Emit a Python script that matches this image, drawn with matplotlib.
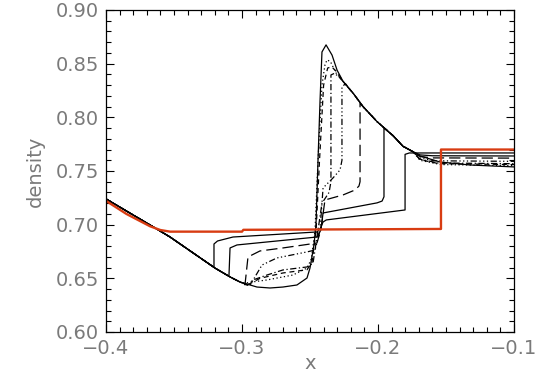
import matplotlib.pyplot as plt
from matplotlib.ticker import MultipleLocator

# exact / reference solution (red)
red_x = [-0.400, -0.3850, -0.3676, -0.3600, -0.3529, -0.3000, -0.2990, -0.1537, -0.1537, -0.100]
red_y = [0.7222, 0.7100, 0.6985, 0.6950, 0.6935, 0.6935, 0.6952, 0.6960, 0.7700, 0.7700]

# shared left rarefaction fan
rare_x = [-0.4000, -0.3676, -0.3529, -0.3199, -0.3088, -0.3015]
rare_y = [0.7240, 0.6997, 0.6885, 0.6596, 0.6513, 0.6466]

# shared upper shock envelope
env_x = [-0.2382, -0.2338, -0.2301, -0.2257, -0.2180, -0.2110, -0.2007, -0.1890, -0.1816, -0.1743]
env_y = [0.8675, 0.8580, 0.8440, 0.8335, 0.8220, 0.8100, 0.7960, 0.7830, 0.7730, 0.7680]

# each curve: its own points between the fan and the envelope, plus the right tail
curve_a_x = [-0.3206, -0.3206, -0.3180, -0.3066, -0.2449, -0.2426, -0.2404, -0.2380, -0.1801,
             -0.1801, -0.1770, -0.100]
curve_a_y = [0.6603, 0.6820, 0.6848, 0.6885, 0.6932, 0.6960, 0.7025, 0.7044, 0.7137,
             0.7655, 0.7668, 0.7668]

curve_b_x = [-0.3096, -0.3088, -0.3037, -0.2449, -0.2420, -0.2404, -0.2007, -0.1970, -0.1956,
             -0.1956, -0.1890, -0.1816, -0.1743, -0.1691, -0.1600, -0.100]
curve_b_y = [0.6520, 0.6783, 0.6811, 0.6885, 0.6950, 0.7109, 0.7203, 0.7220, 0.7260,
             0.7900, 0.7830, 0.7730, 0.7680, 0.7650, 0.7642, 0.7640]

curve_c_x = [-0.2978, -0.2956, -0.2868, -0.2699, -0.2449, -0.2420, -0.2390, -0.2257, -0.2169,
             -0.2140, -0.2132, -0.2132]
curve_c_y = [0.6440, 0.6699, 0.6755, 0.6783, 0.6829, 0.6950, 0.7230, 0.7277, 0.7323,
             0.7360, 0.7400, 0.8130]
tail_c_x = [-0.1691, -0.1600, -0.100]
tail_c_y = [0.7635, 0.7622, 0.7620]

curve_d_x = [-0.2941, -0.2853, -0.2743, -0.2522, -0.2463, -0.2426, -0.2404, -0.2331, -0.2279,
             -0.2265, -0.2265, -0.2240]
curve_d_y = [0.6435, 0.6624, 0.6690, 0.6746, 0.6764, 0.6950, 0.7342, 0.7435, 0.7510,
             0.7600, 0.8280, 0.8315]
tail_d_x = [-0.1691, -0.1580, -0.100]
tail_d_y = [0.7620, 0.7595, 0.7590]

curve_e_x = [-0.2960, -0.2919, -0.2816, -0.2699, -0.2522, -0.2478, -0.2441, -0.2412, -0.2360,
             -0.2346, -0.2346, -0.2320, -0.2290]
curve_e_y = [0.6435, 0.6485, 0.6531, 0.6578, 0.6606, 0.6640, 0.6950, 0.7200, 0.7300,
             0.7400, 0.8395, 0.8410, 0.8380]
tail_e_x = [-0.1691, -0.1560, -0.100]
tail_e_y = [0.7610, 0.7575, 0.7568]

curve_x_x = [-0.2956, -0.2868, -0.2699, -0.2522, -0.2485, -0.2455, -0.2430, -0.2400, -0.2370,
             -0.2340, -0.2300, -0.2270]
curve_x_y = [0.6440, 0.6500, 0.6550, 0.6580, 0.6650, 0.6950, 0.7600, 0.8300, 0.8460,
             0.8470, 0.8420, 0.8360]
tail_x_x = [-0.1691, -0.1550, -0.100]
tail_x_y = [0.7605, 0.7568, 0.7560]

curve_f_x = [-0.2990, -0.2926, -0.2816, -0.2625, -0.2522, -0.2490, -0.2463, -0.2441, -0.2412,
             -0.2390, -0.2375, -0.2350, -0.2309, -0.2279]
curve_f_y = [0.6452, 0.6466, 0.6485, 0.6531, 0.6596, 0.6680, 0.6950, 0.7600, 0.8300,
             0.8488, 0.8535, 0.8520, 0.8414, 0.8370]
tail_f_x = [-0.1691, -0.1540, -0.100]
tail_f_y = [0.7600, 0.7560, 0.7550]

curve_g_x = [-0.2890, -0.2794, -0.2699, -0.2596, -0.2522, -0.2500, -0.2471, -0.2456, -0.2441,
             -0.2426, -0.2412]
curve_g_y = [0.6419, 0.6410, 0.6419, 0.6438, 0.6503, 0.6596, 0.6811, 0.6997, 0.7603,
             0.8162, 0.8609]
tail_g_x = [-0.1691, -0.1544, -0.1324, -0.100]
tail_g_y = [0.7640, 0.7584, 0.7556, 0.7538]


def build(cx, cy, tx=None, ty=None):
    # fan up to where the curve leaves it, own points, envelope after, then tail
    xs = [x for x in rare_x if x < cx[0]] + list(cx)
    ys = [y for x, y in zip(rare_x, rare_y) if x < cx[0]] + list(cy)
    if tx is not None:
        xs += [x for x in env_x if x > cx[-1]] + list(tx)
        ys += [y for x, y in zip(env_x, env_y) if x > cx[-1]] + list(ty)
    return xs, ys


fig = plt.figure(figsize=(5.36, 3.76), dpi=100)
ax = fig.add_axes([106 / 536, 1 - 332 / 376, 408 / 536, 322 / 376])

lw = 0.9
ax.plot(*build(curve_a_x, curve_a_y), color='black', lw=lw, ls='-')
ax.plot(*build(curve_b_x, curve_b_y, [], []), color='black', lw=lw, ls='-')
ax.plot(*build(curve_c_x, curve_c_y, tail_c_x, tail_c_y), color='black', lw=lw, ls=(0, (9, 4)))
ax.plot(*build(curve_d_x, curve_d_y, tail_d_x, tail_d_y), color='black', lw=lw,
        ls=(0, (5, 2, 1, 2, 1, 2, 1, 2)))
ax.plot(*build(curve_e_x, curve_e_y, tail_e_x, tail_e_y), color='black', lw=lw, ls=(0, (5, 2, 1, 2)))
ax.plot(*build(curve_x_x, curve_x_y, tail_x_x, tail_x_y), color='black', lw=lw, ls=(0, (4, 3)))
ax.plot(*build(curve_f_x, curve_f_y, tail_f_x, tail_f_y), color='black', lw=lw, ls=(0, (1, 2)))
ax.plot(*build(curve_g_x, curve_g_y, tail_g_x, tail_g_y), color='black', lw=lw, ls='-')

ax.plot(red_x, red_y, color='#d83c12', lw=1.7)

ax.set_xlim(-0.4, -0.1)
ax.set_ylim(0.60, 0.90)
ax.xaxis.set_major_locator(MultipleLocator(0.1))
ax.xaxis.set_minor_locator(MultipleLocator(0.01))
ax.yaxis.set_major_locator(MultipleLocator(0.05))
ax.yaxis.set_minor_locator(MultipleLocator(0.01))
ax.xaxis.set_major_formatter(lambda v, p: f'{v:.1f}'.replace('-', '\u2212'))
ax.yaxis.set_major_formatter(lambda v, p: f'{v:.2f}')
ax.tick_params(which='both', direction='in', top=True, right=True, colors='black',
               labelcolor='#7a7a7a', labelsize=14, width=0.8)
ax.tick_params(which='major', length=6, pad=5)
ax.tick_params(which='minor', length=3.5)
for s in ax.spines.values():
    s.set_linewidth(0.9)
ax.set_xlabel('x', color='#7a7a7a', fontsize=14, labelpad=-3)
ax.set_ylabel('density', color='#7a7a7a', fontsize=14, labelpad=8)

fig.savefig('out.png', dpi=100)
